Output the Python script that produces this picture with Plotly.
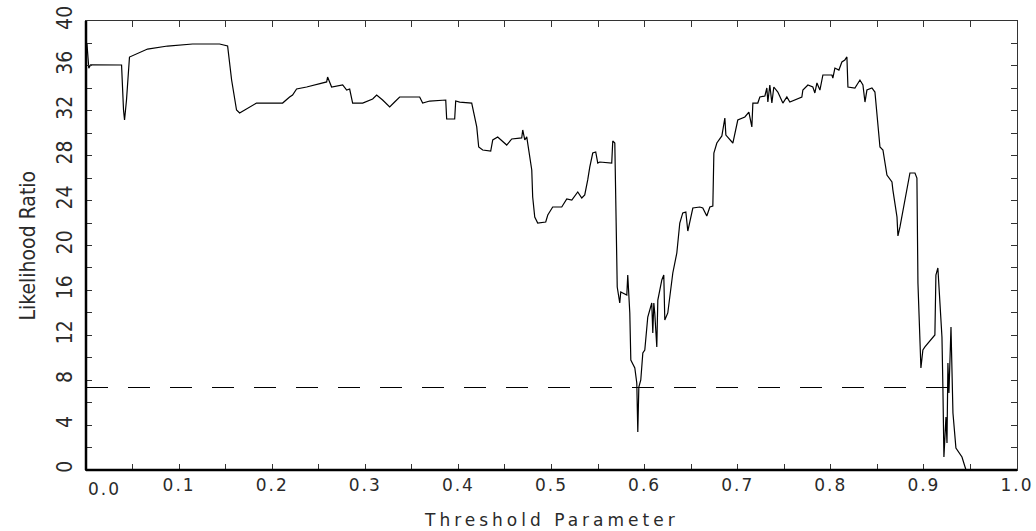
import plotly.graph_objects as go

# Threshold parameter (x) and likelihood ratio (y)
threshold = [
    0.001, 0.003, 0.005, 0.0382, 0.0403, 0.0414, 0.0435, 0.0467, 0.0661, 0.0876,
    0.1145, 0.1435, 0.1521, 0.1564, 0.1617, 0.165, 0.1832, 0.2112, 0.2187, 0.2219,
    0.2262, 0.237, 0.2585, 0.2595, 0.2638, 0.2757, 0.28, 0.2832, 0.2864, 0.2972,
    0.3079, 0.3122, 0.3186, 0.3262, 0.3315, 0.3369, 0.3584, 0.3616, 0.3692, 0.3864,
    0.3874, 0.396, 0.3971, 0.4014, 0.4143, 0.4197, 0.4218, 0.4261, 0.4347, 0.4369,
    0.4422, 0.4519, 0.4573, 0.468, 0.4691, 0.4713, 0.4734, 0.4788, 0.4798, 0.482,
    0.4852, 0.4938, 0.496, 0.5013, 0.511, 0.5164, 0.5218, 0.5282, 0.5325, 0.5357,
    0.5389, 0.5411, 0.5443, 0.5475, 0.5497, 0.5518, 0.5647, 0.5658, 0.568, 0.5701,
    0.5706, 0.5733, 0.5744, 0.5765, 0.5809, 0.5819, 0.5841, 0.5852, 0.5895, 0.5916,
    0.5922, 0.5927, 0.5938, 0.5959, 0.5981, 0.6002, 0.6034, 0.6077, 0.6088, 0.6099,
    0.6109, 0.6131, 0.6142, 0.6185, 0.6206, 0.6217, 0.6249, 0.6303, 0.6346, 0.6378,
    0.641, 0.6443, 0.6464, 0.6507, 0.6518, 0.6593, 0.6625, 0.6668, 0.6701, 0.6733,
    0.6744, 0.6776, 0.683, 0.6862, 0.6873, 0.6948, 0.698, 0.7001, 0.7077, 0.712,
    0.7152, 0.7163, 0.7216, 0.7238, 0.7292, 0.7313, 0.7324, 0.7345, 0.7367, 0.7388,
    0.7431, 0.7485, 0.7528, 0.756, 0.7689, 0.77, 0.7754, 0.7807, 0.7829, 0.7851,
    0.7883, 0.7915, 0.8012, 0.8022, 0.8044, 0.8087, 0.8119, 0.8151, 0.8173, 0.8184,
    0.8259, 0.8313, 0.8345, 0.8367, 0.8388, 0.8442, 0.8474, 0.8506, 0.8528, 0.856,
    0.8603, 0.8657, 0.8667, 0.8711, 0.8721, 0.8743, 0.8796, 0.885, 0.8904, 0.8925,
    0.8936, 0.8958, 0.8968, 0.8989, 0.9011, 0.9118, 0.9129, 0.915, 0.9161, 0.9194,
    0.9204, 0.9215, 0.9237, 0.9248, 0.9258, 0.9269, 0.9291, 0.9301, 0.9312, 0.9344,
    0.9409, 0.9452,
]
likelihood = [
    38.0, 35.8, 36.1, 36.08, 32.07, 31.18, 32.96, 36.79, 37.5, 37.77,
    37.95, 37.95, 37.77, 34.74, 32.07, 31.8, 32.69, 32.69, 33.23, 33.41,
    33.94, 34.12, 34.57, 35.01, 34.12, 34.3, 33.85, 33.94, 32.69, 32.69,
    33.05, 33.41, 32.96, 32.34, 32.78, 33.23, 33.23, 32.69, 32.87, 32.96,
    31.27, 31.27, 32.87, 32.78, 32.69, 30.56, 28.78, 28.51, 28.42, 29.4,
    29.67, 28.95, 29.49, 29.58, 30.29, 29.4, 29.67, 26.73, 24.32, 22.54,
    22.0, 22.09, 22.72, 23.43, 23.43, 24.14, 24.05, 24.77, 24.23, 24.5,
    25.84, 26.99, 28.24, 28.33, 27.35, 27.44, 27.35, 29.31, 29.13, 19.87,
    16.3, 14.88, 15.86, 15.77, 15.59, 17.37, 13.99, 9.8, 9.09, 7.75,
    4.45, 3.39, 7.39, 8.02, 10.42, 10.69, 13.63, 14.88, 12.2, 14.88,
    13.99, 10.96, 15.14, 16.93, 17.37, 13.36, 13.99, 17.55, 19.33, 22.0,
    22.9, 22.98, 21.29, 22.72, 23.34, 23.43, 23.34, 22.63, 23.43, 23.52,
    28.24, 29.13, 29.76, 31.36, 29.84, 29.13, 30.56, 31.18, 31.45, 31.89,
    30.56, 32.69, 32.69, 33.23, 33.32, 34.03, 32.78, 34.3, 32.69, 34.12,
    33.67, 32.69, 33.23, 32.78, 33.23, 33.85, 34.3, 34.12, 33.59, 34.48,
    33.85, 35.19, 35.19, 34.92, 35.81, 35.63, 36.35, 36.53, 36.8, 34.12,
    34.03, 34.74, 34.3, 32.78, 33.85, 34.03, 33.67, 30.56, 28.78, 28.51,
    26.28, 25.66, 24.94, 22.54, 20.85, 21.65, 24.05, 26.46, 26.46, 26.01,
    16.66, 9.8, 9.09, 10.69, 10.96, 12.03, 17.37, 18.0, 16.66, 11.85,
    7.39, 1.16, 4.72, 2.41, 9.53, 6.86, 12.74, 10.07, 5.08, 1.96,
    1.16, 0.0,
]

critical_value = 7.35
critical_x = [0.0, 0.935]

x_tickvals = [0.0, 0.1, 0.2, 0.3, 0.4, 0.5, 0.6, 0.7, 0.8, 0.9, 1.0]
x_ticklabels = ["", "0.1", "0.2", "0.3", "0.4", "0.5", "0.6", "0.7", "0.8", "0.9", "1.0"]
y_tickvals = [0, 4, 8, 12, 16, 20, 24, 28, 32, 36, 40]
y_ticklabels = [str(v) for v in y_tickvals]

TXT = "#2a2a2a"
XFONT = dict(family="DejaVu Sans", size=17, color=TXT)
NARROW = "Liberation Sans Narrow, DejaVu Sans Condensed, Roboto Condensed, Liberation Sans"
YFONT = dict(family=NARROW, size=21, color=TXT)


def spaced(s, px):
    return f'<span style="letter-spacing:{px}px">{s}</span>' if s else ""


fig = go.Figure()
fig.add_trace(go.Scatter(
    x=threshold, y=likelihood, mode="lines",
    line=dict(color="black", width=1.2), hoverinfo="skip", showlegend=False,
))
fig.add_trace(go.Scatter(
    x=critical_x, y=[critical_value, critical_value], mode="lines",
    line=dict(color="black", width=1.1, dash="22px,20px"), hoverinfo="skip", showlegend=False,
))

fig.update_layout(
    width=1036, height=531,
    margin=dict(l=86, r=19, t=21, b=61, autoexpand=False),
    paper_bgcolor="white", plot_bgcolor="white",
    xaxis=dict(
        range=[0, 1], showgrid=False, zeroline=False, automargin=False,
        showline=True, linecolor="#333", linewidth=1, mirror="ticks",
        ticks="inside", ticklen=6, tickwidth=1, tickcolor="#333",
        tickmode="array", tickvals=x_tickvals,
        ticktext=[spaced(t, 2) for t in x_ticklabels],
        tickfont=XFONT, ticklabelstandoff=0,
        minor=dict(tickmode="linear", tick0=0, dtick=0.05, ticks="inside",
                   ticklen=6, tickwidth=1, tickcolor="#333"),
    ),
    yaxis=dict(
        range=[0, 40], showgrid=False, zeroline=False, automargin=False,
        showline=True, linecolor="#333", linewidth=1, mirror="ticks",
        ticks="inside", ticklen=6, tickwidth=1, tickcolor="#333",
        tickmode="array", tickvals=y_tickvals, ticktext=y_ticklabels,
        tickangle=-90, tickfont=YFONT, ticklabelstandoff=5,
        minor=dict(tickmode="linear", tick0=0, dtick=2, ticks="inside",
                   ticklen=6, tickwidth=1, tickcolor="#333"),
    ),
    shapes=[
        dict(type="line", xref="paper", yref="paper", x0=0, x1=0, y0=0, y1=1,
             line=dict(color="black", width=2.5), layer="above"),
        dict(type="line", xref="paper", yref="paper", x0=0, x1=1, y0=0, y1=0,
             line=dict(color="black", width=2.5), layer="above"),
    ],
    annotations=[
        dict(text=spaced("0.0", 2), x=0, xref="x", y=0, yref="paper",
             xanchor="left", yanchor="top", yshift=-7, xshift=0,
             showarrow=False, font=XFONT),
        dict(text=spaced("Threshold Parameter", 4), x=0.5, xref="paper",
             y=0, yref="paper", xanchor="center", yanchor="top", yshift=-38,
             showarrow=False, font=dict(family="DejaVu Sans", size=17, color=TXT)),
        dict(text="Likelihood Ratio", x=0, xref="paper", y=0.5, yref="paper",
             xanchor="center", yanchor="middle", xshift=-59, textangle=-90,
             showarrow=False, font=dict(family=NARROW, size=21, color=TXT)),
    ],
)

fig.write_html(
    "out.html",
    config={"displayModeBar": False},
    post_script="document.body.style.margin='0';document.body.style.overflow='hidden';",
)
